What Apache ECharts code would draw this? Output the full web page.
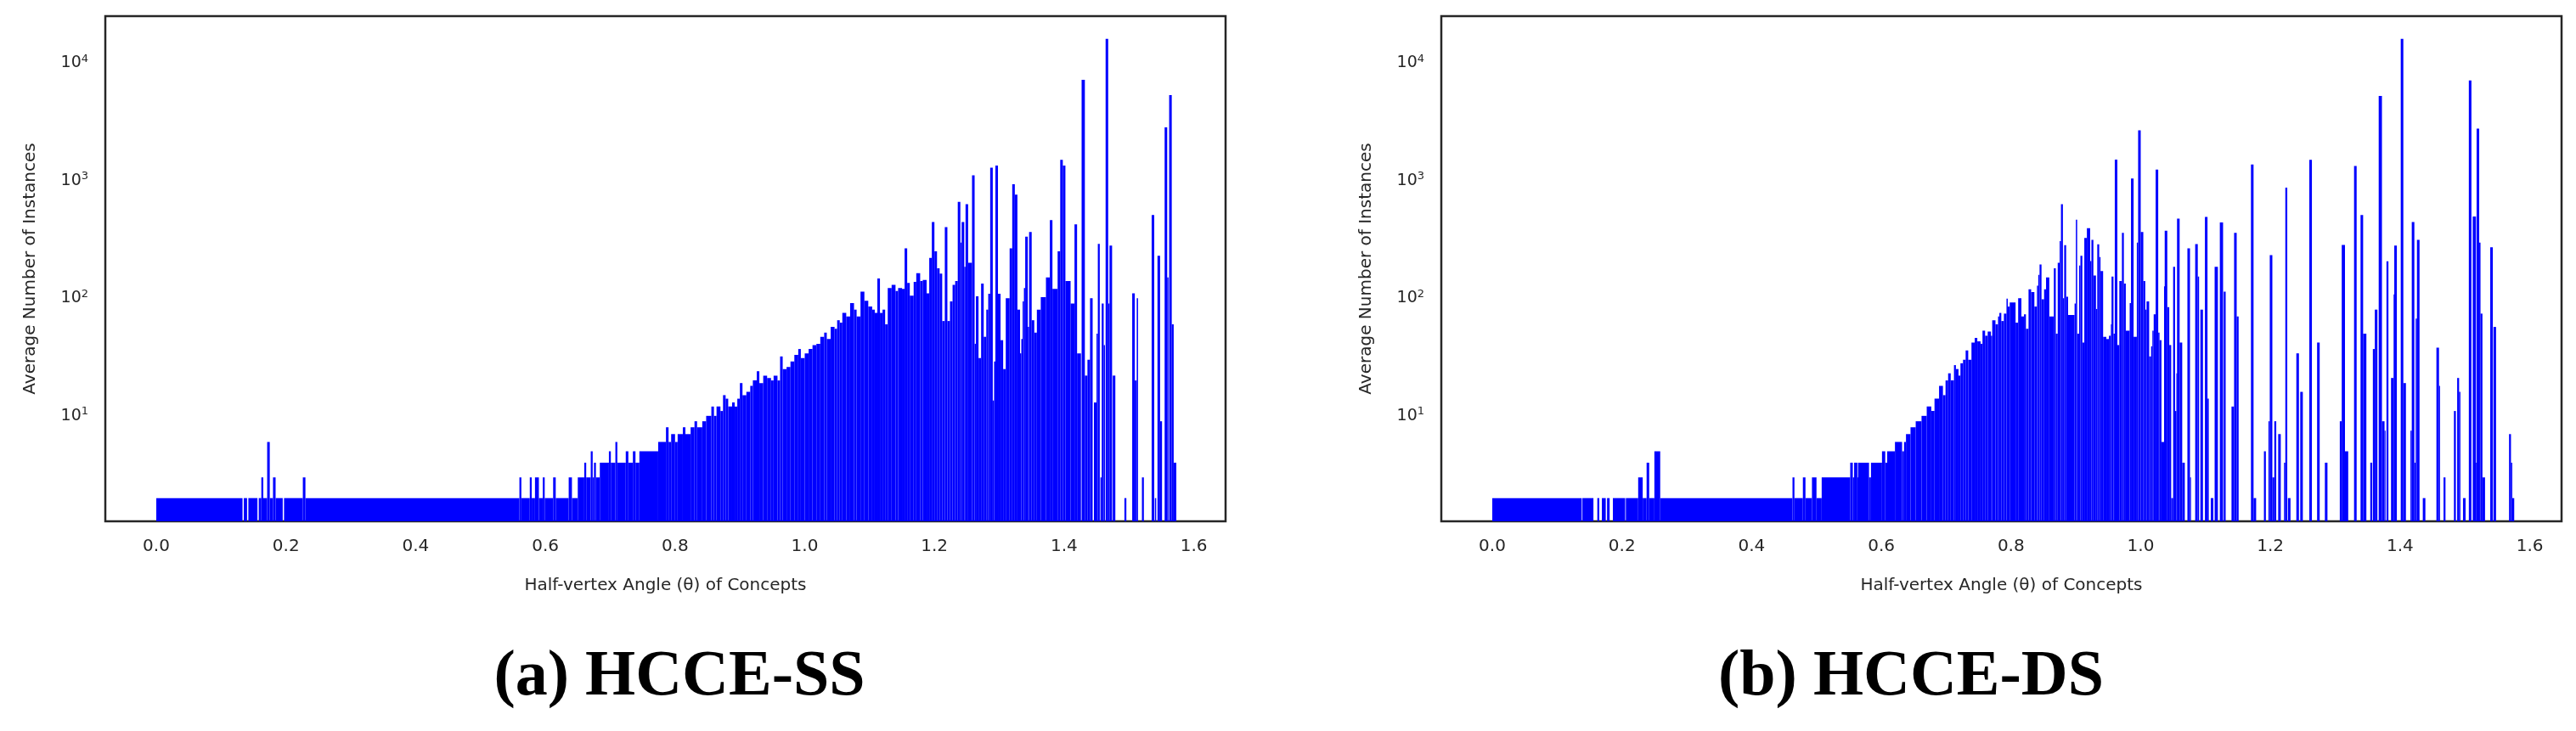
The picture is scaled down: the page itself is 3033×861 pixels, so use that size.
<!DOCTYPE html>
<html>
<head>
<meta charset="utf-8">
<script src="https://cdn.jsdelivr.net/npm/echarts@6/dist/echarts.min.js"></script>
<style>
  html, body { margin: 0; padding: 0; background: #fff; }
  #main { width: 3033px; height: 861px; }
</style>
</head>
<body>
<div id="main"></div>
<script>
// histogram bins: [start angle, end angle, average number of instances]
var ssBins = [
  [0, 0.133, 2], [0.135, 0.140, 2], [0.142, 0.156, 2], [0.158, 0.162, 2], [0.162, 0.165, 3],
  [0.165, 0.171, 2], [0.171, 0.175, 6], [0.175, 0.180, 2], [0.180, 0.184, 3], [0.184, 0.195, 2],
  [0.197, 0.226, 2], [0.226, 0.230, 3], [0.230, 0.560, 2],
  [0.560, 0.563, 3], [0.563, 0.576, 2], [0.576, 0.579, 3], [0.579, 0.584, 2], [0.584, 0.590, 3],
  [0.590, 0.596, 2], [0.596, 0.599, 3], [0.599, 0.612, 2], [0.612, 0.616, 3], [0.616, 0.636, 2],
  [0.636, 0.641, 3], [0.641, 0.650, 2], [0.650, 0.660, 3], [0.660, 0.663, 4], [0.663, 0.670, 3],
  [0.670, 0.673, 5], [0.673, 0.675, 3], [0.675, 0.678, 4], [0.678, 0.684, 3], [0.684, 0.698, 4],
  [0.698, 0.701, 5], [0.701, 0.708, 4], [0.708, 0.711, 6], [0.711, 0.724, 4], [0.724, 0.728, 5],
  [0.728, 0.735, 4], [0.735, 0.739, 5], [0.739, 0.745, 4], [0.745, 0.774, 5], [0.774, 0.786, 6],
  [0.786, 0.790, 8], [0.790, 0.794, 6], [0.794, 0.800, 7], [0.800, 0.804, 6], [0.804, 0.812, 7],
  [0.812, 0.816, 8], [0.816, 0.824, 7], [0.824, 0.830, 8], [0.830, 0.834, 9], [0.834, 0.842, 8],
  [0.842, 0.848, 9], [0.848, 0.856, 10], [0.856, 0.860, 12], [0.860, 0.864, 10], [0.864, 0.870, 12],
  [0.870, 0.874, 11], [0.874, 0.878, 15], [0.878, 0.882, 14], [0.882, 0.888, 12], [0.888, 0.892, 13],
  [0.892, 0.896, 12], [0.896, 0.900, 14], [0.900, 0.904, 19], [0.904, 0.910, 15], [0.910, 0.916, 16],
  [0.916, 0.920, 18], [0.920, 0.926, 20], [0.926, 0.930, 24], [0.930, 0.936, 19], [0.936, 0.942, 22],
  [0.942, 0.948, 21], [0.948, 0.952, 20], [0.952, 0.958, 22], [0.958, 0.962, 20], [0.962, 0.966, 32],
  [0.966, 0.972, 25], [0.972, 0.978, 26], [0.978, 0.984, 29], [0.984, 0.990, 33], [0.990, 0.994, 37],
  [0.994, 1.000, 31], [1.000, 1.006, 34], [1.006, 1.012, 37], [1.012, 1.018, 40], [1.018, 1.024, 41],
  [1.024, 1.030, 47], [1.030, 1.034, 51], [1.034, 1.040, 45], [1.040, 1.046, 57], [1.046, 1.050, 55],
  [1.050, 1.054, 65], [1.054, 1.058, 62], [1.058, 1.064, 75], [1.064, 1.070, 70], [1.070, 1.076, 91],
  [1.076, 1.080, 80], [1.080, 1.086, 70], [1.086, 1.092, 114], [1.092, 1.098, 95], [1.098, 1.104, 85],
  [1.104, 1.108, 80], [1.108, 1.112, 75], [1.112, 1.116, 147], [1.116, 1.120, 75], [1.120, 1.124, 80],
  [1.124, 1.128, 60], [1.128, 1.134, 122], [1.134, 1.140, 130], [1.140, 1.144, 115], [1.144, 1.150, 122],
  [1.150, 1.154, 120], [1.154, 1.158, 266], [1.158, 1.162, 135], [1.162, 1.168, 105], [1.168, 1.172, 138],
  [1.172, 1.178, 163], [1.178, 1.182, 140], [1.182, 1.188, 143], [1.188, 1.192, 110], [1.192, 1.196, 220],
  [1.196, 1.200, 445], [1.200, 1.204, 250], [1.204, 1.208, 180], [1.208, 1.212, 162], [1.212, 1.216, 64],
  [1.216, 1.220, 403], [1.220, 1.224, 64], [1.224, 1.228, 94], [1.228, 1.232, 130], [1.232, 1.236, 140],
  [1.236, 1.240, 660], [1.240, 1.242, 297], [1.242, 1.246, 445], [1.246, 1.248, 185], [1.248, 1.252, 630],
  [1.252, 1.258, 200], [1.258, 1.262, 1110], [1.262, 1.264, 41], [1.264, 1.268, 104], [1.268, 1.272, 31],
  [1.272, 1.276, 133], [1.276, 1.280, 47], [1.280, 1.283, 80], [1.283, 1.286, 109], [1.286, 1.290, 1290],
  [1.290, 1.292, 13.5], [1.292, 1.294, 29], [1.294, 1.298, 1340], [1.298, 1.302, 109], [1.302, 1.306, 44],
  [1.306, 1.310, 25], [1.310, 1.316, 100], [1.316, 1.320, 266], [1.320, 1.324, 930], [1.324, 1.328, 760],
  [1.328, 1.332, 80], [1.332, 1.334, 34], [1.334, 1.336, 45], [1.336, 1.338, 94], [1.338, 1.340, 122],
  [1.340, 1.344, 334], [1.344, 1.346, 57], [1.346, 1.350, 366], [1.350, 1.354, 65], [1.354, 1.358, 51],
  [1.358, 1.364, 80], [1.364, 1.372, 102], [1.372, 1.378, 150], [1.378, 1.382, 461], [1.382, 1.390, 120],
  [1.390, 1.394, 250], [1.394, 1.398, 1500], [1.398, 1.402, 1340], [1.402, 1.410, 140], [1.410, 1.416, 90],
  [1.416, 1.420, 424], [1.420, 1.426, 34], [1.427, 1.432, 7180], [1.432, 1.436, 22], [1.436, 1.440, 30],
  [1.440, 1.444, 100], [1.446, 1.450, 13], [1.450, 1.452, 50], [1.452, 1.455, 290], [1.456, 1.458, 3],
  [1.458, 1.461, 90], [1.461, 1.463, 40], [1.464, 1.468, 16000], [1.468, 1.470, 90], [1.470, 1.474, 280],
  [1.475, 1.479, 22], [1.493, 1.496, 2], [1.505, 1.509, 110], [1.509, 1.512, 20], [1.512, 1.514, 100],
  [1.520, 1.523, 3], [1.535, 1.539, 510], [1.540, 1.542, 2], [1.544, 1.548, 230], [1.548, 1.551, 9],
  [1.555, 1.559, 2830], [1.559, 1.561, 150], [1.562, 1.566, 5320], [1.566, 1.569, 60], [1.569, 1.573, 4]
];

var dsBins = [
  [0, 0.138, 2], [0.139, 0.156, 2], [0.162, 0.165, 2], [0.169, 0.175, 2], [0.177, 0.181, 2],
  [0.186, 0.205, 2], [0.206, 0.225, 2], [0.225, 0.232, 3], [0.232, 0.238, 2], [0.238, 0.242, 4],
  [0.242, 0.250, 2], [0.250, 0.259, 5], [0.259, 0.463, 2], [0.463, 0.466, 3], [0.466, 0.479, 2],
  [0.479, 0.483, 3], [0.483, 0.493, 2], [0.493, 0.500, 3], [0.500, 0.508, 2], [0.508, 0.552, 3],
  [0.552, 0.556, 4], [0.556, 0.558, 3], [0.558, 0.563, 4], [0.563, 0.564, 3], [0.564, 0.581, 4],
  [0.581, 0.584, 3], [0.584, 0.601, 4], [0.601, 0.606, 5], [0.606, 0.609, 4], [0.609, 0.621, 5],
  [0.621, 0.632, 6], [0.632, 0.635, 5], [0.635, 0.638, 6], [0.638, 0.645, 7], [0.645, 0.653, 8],
  [0.653, 0.662, 9], [0.662, 0.670, 10], [0.670, 0.677, 12], [0.677, 0.682, 11], [0.682, 0.689, 14],
  [0.689, 0.695, 18], [0.695, 0.699, 15], [0.699, 0.703, 20], [0.703, 0.707, 23], [0.707, 0.712, 20],
  [0.712, 0.715, 27], [0.715, 0.719, 25], [0.719, 0.722, 22], [0.722, 0.726, 28], [0.726, 0.730, 30],
  [0.730, 0.734, 36], [0.734, 0.739, 30], [0.739, 0.744, 42], [0.744, 0.748, 46], [0.748, 0.753, 43],
  [0.753, 0.756, 41], [0.756, 0.760, 53], [0.760, 0.764, 48], [0.764, 0.769, 52], [0.769, 0.771, 48],
  [0.771, 0.776, 65], [0.776, 0.780, 60], [0.780, 0.782, 70], [0.782, 0.785, 75], [0.785, 0.789, 64],
  [0.789, 0.793, 74], [0.793, 0.795, 99], [0.795, 0.798, 85], [0.798, 0.807, 92], [0.807, 0.811, 62],
  [0.811, 0.816, 100], [0.816, 0.820, 70], [0.820, 0.823, 73], [0.823, 0.827, 55], [0.827, 0.831, 119],
  [0.831, 0.836, 113], [0.836, 0.840, 85], [0.840, 0.842, 128], [0.842, 0.844, 158], [0.844, 0.847, 194],
  [0.847, 0.851, 98], [0.851, 0.854, 119], [0.854, 0.859, 150], [0.859, 0.866, 70], [0.866, 0.869, 180],
  [0.869, 0.872, 50], [0.872, 0.875, 200], [0.875, 0.877, 306], [0.877, 0.880, 630], [0.880, 0.882, 100],
  [0.882, 0.885, 282], [0.885, 0.888, 103], [0.888, 0.898, 72], [0.898, 0.900, 90], [0.900, 0.902, 466],
  [0.902, 0.905, 50], [0.905, 0.907, 190], [0.907, 0.910, 230], [0.910, 0.913, 42], [0.913, 0.917, 326],
  [0.917, 0.922, 394], [0.922, 0.924, 207], [0.924, 0.927, 313], [0.927, 0.931, 156], [0.931, 0.933, 81],
  [0.933, 0.936, 287], [0.936, 0.938, 224], [0.938, 0.942, 170], [0.942, 0.947, 47],
  [0.947, 0.951, 45], [0.951, 0.954, 48], [0.954, 0.955, 60], [0.955, 0.958, 153], [0.958, 0.960, 50],
  [0.960, 0.964, 1510], [0.964, 0.967, 40], [0.967, 0.971, 140], [0.971, 0.974, 360], [0.974, 0.977, 133],
  [0.977, 0.983, 53], [0.983, 0.985, 91], [0.985, 0.989, 1040], [0.989, 0.994, 47], [0.994, 0.996, 297],
  [0.996, 1.000, 2670], [1.000, 1.004, 366], [1.004, 1.007, 140], [1.007, 1.009, 80], [1.009, 1.013, 94],
  [1.013, 1.016, 32], [1.016, 1.018, 39], [1.018, 1.020, 53], [1.020, 1.023, 73], [1.023, 1.027, 1240],
  [1.027, 1.029, 51], [1.029, 1.032, 44], [1.032, 1.036, 6], [1.036, 1.037, 126], [1.037, 1.041, 375],
  [1.041, 1.044, 84], [1.044, 1.047, 40], [1.047, 1.050, 2], [1.050, 1.053, 185], [1.053, 1.055, 11],
  [1.055, 1.056, 23], [1.056, 1.060, 474], [1.060, 1.064, 42], [1.064, 1.068, 4], [1.072, 1.076, 266],
  [1.076, 1.077, 3], [1.084, 1.088, 289], [1.088, 1.090, 153], [1.092, 1.096, 80], [1.099, 1.103, 491],
  [1.103, 1.105, 14], [1.108, 1.112, 2], [1.114, 1.119, 185], [1.122, 1.127, 440], [1.128, 1.131, 114],
  [1.140, 1.144, 12], [1.144, 1.148, 360], [1.148, 1.151, 70], [1.170, 1.174, 1370], [1.174, 1.178, 2],
  [1.190, 1.193, 5], [1.197, 1.199, 9], [1.199, 1.203, 232], [1.203, 1.206, 3], [1.206, 1.209, 9],
  [1.212, 1.216, 7], [1.221, 1.223, 4], [1.223, 1.226, 870], [1.227, 1.231, 2], [1.240, 1.244, 34],
  [1.246, 1.250, 16], [1.260, 1.264, 1500], [1.272, 1.276, 42], [1.284, 1.288, 4], [1.307, 1.310, 9],
  [1.310, 1.315, 284], [1.315, 1.320, 5], [1.329, 1.333, 1330], [1.339, 1.343, 510], [1.343, 1.348, 50],
  [1.354, 1.357, 4], [1.358, 1.361, 37], [1.361, 1.365, 80], [1.367, 1.372, 5250], [1.372, 1.376, 9],
  [1.376, 1.377, 7.5], [1.379, 1.382, 206], [1.386, 1.390, 21], [1.390, 1.391, 108], [1.391, 1.395, 280],
  [1.401, 1.405, 16000], [1.405, 1.409, 19], [1.416, 1.418, 7.5], [1.418, 1.422, 444], [1.422, 1.424, 4],
  [1.424, 1.426, 67], [1.426, 1.430, 314], [1.435, 1.439, 2], [1.456, 1.460, 38], [1.460, 1.461, 18],
  [1.467, 1.470, 3], [1.483, 1.486, 11], [1.488, 1.491, 21], [1.491, 1.493, 16], [1.497, 1.501, 2],
  [1.506, 1.510, 7100], [1.512, 1.517, 495], [1.517, 1.518, 4], [1.518, 1.522, 2770], [1.522, 1.524, 297],
  [1.524, 1.527, 74], [1.527, 1.531, 3], [1.539, 1.543, 271], [1.544, 1.548, 57], [1.568, 1.571, 7],
  [1.571, 1.573, 4], [1.573, 1.576, 2]
];

var xTicks = [0, 0.2, 0.4, 0.6, 0.8, 1.0, 1.2, 1.4, 1.6];
var yTicks = [10, 100, 1000, 10000];
var captions = [['a', 'HCCE-SS'], ['b', 'HCCE-DS']];

var yMin = 1.27, yMax = 25000;
var textColor = '#262626';

var myChart = echarts.init(document.getElementById('main'));

function renderBin(params, api) {
    var p0 = api.coord([api.value(0), api.value(2)]);
    var p1 = api.coord([api.value(1), yMin]);
    return {
        type: 'rect',
        shape: { x: p0[0], y: p0[1], width: Math.max(p1[0] - p0[0], 1.2), height: p1[1] - p0[1] },
        style: { fill: '#0000ff' }
    };
}

function makeX(idx) {
    return {
        type: 'value', gridIndex: idx, min: -0.0786, max: 1.649,
        name: 'Half-vertex Angle (\u03b8) of Concepts',
        nameLocation: 'middle', nameGap: 66,
        nameTextStyle: { color: textColor, fontSize: 20, fontFamily: 'DejaVu Sans' },
        axisLine: { show: false }, axisTick: { show: false }, splitLine: { show: false },
        axisLabel: {
            customValues: xTicks, margin: 20, color: textColor, fontSize: 20,
            fontFamily: 'DejaVu Sans',
            formatter: function(v) { return v.toFixed(1); }
        }
    };
}

function makeY(idx) {
    return {
        type: 'log', logBase: 10, gridIndex: idx, min: yMin, max: yMax,
        name: 'Average Number of Instances',
        nameLocation: 'middle', nameGap: 78,
        nameTextStyle: { color: textColor, fontSize: 20, fontFamily: 'DejaVu Sans' },
        axisLine: { show: false }, axisTick: { show: false }, splitLine: { show: false },
        axisLabel: {
            customValues: yTicks, margin: 20,
            formatter: function(v) {
                var e = Math.round(Math.log(v) / Math.LN10);
                return '{b|10}{s|' + e + '}';
            },
            rich: {
                b: { color: textColor, fontSize: 19, fontFamily: 'DejaVu Sans' },
                s: { color: textColor, fontSize: 13, fontFamily: 'DejaVu Sans', verticalAlign: 'top', padding: [0, 0, 10, 0] }
            }
        }
    };
}

var gridBase = { top: 19, height: 595, width: 1319, show: true, borderColor: '#262626', borderWidth: 2.5, backgroundColor: '#fff' };

var option = {
    backgroundColor: '#fff',
    animation: false,
    grid: [
        Object.assign({ left: 124 }, gridBase),
        Object.assign({ left: 1697 }, gridBase)
    ],
    xAxis: [makeX(0), makeX(1)],
    yAxis: [makeY(0), makeY(1)],
    title: captions.map(function(c, i) {
        return {
            text: '{p|(}{l|' + c[0] + '}{p|) ' + c[1] + '}',
            left: i === 0 ? 795 : 2245, top: 755, textAlign: 'center',
            textStyle: {
                rich: {
                    p: { fontSize: 76, fontFamily: 'Liberation Serif', color: '#000' },
                    l: { fontSize: 76, fontFamily: 'Liberation Serif', fontWeight: 'bold', color: '#000' }
                }
            }
        };
    }),
    series: [
        { type: 'custom', xAxisIndex: 0, yAxisIndex: 0, clip: true, renderItem: renderBin, encode: { x: [0, 1], y: 2 }, data: ssBins },
        { type: 'custom', xAxisIndex: 1, yAxisIndex: 1, clip: true, renderItem: renderBin, encode: { x: [0, 1], y: 2 }, data: dsBins }
    ]
};
myChart.setOption(option);
</script>
</body>
</html>
